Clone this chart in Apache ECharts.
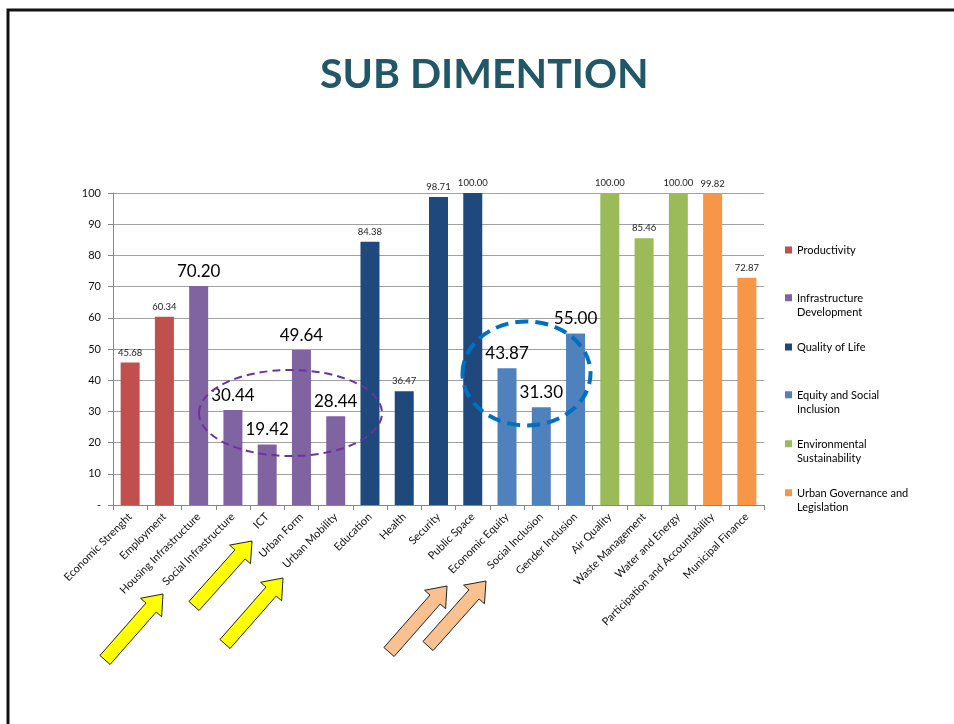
<!DOCTYPE html>
<html><head><meta charset="utf-8">
<script src="https://cdn.jsdelivr.net/npm/echarts@6/dist/echarts.min.js"></script>
<style>html,body{margin:0;padding:0;background:#fff}#c{width:954px;height:724px}</style>
</head><body><div id="c"></div>
<script>
const categories = ['Economic Strenght','Employment','Housing Infrastructure','Social Infrastructure','ICT','Urban Form','Urban Mobility','Education','Health','Security','Public Space','Economic Equity','Social Inclusion','Gender Inclusion','Air Quality','Waste Management','Water and Energy','Participation and Accountability','Municipal Finance'];
const values = [45.68,60.34,70.20,30.44,19.42,49.64,28.44,84.38,36.47,98.71,100.00,43.87,31.30,55.00,100.00,85.46,100.00,99.82,72.87];
const groupNames = ['Productivity','Infrastructure Development','Quality of Life','Equity and Social Inclusion','Environmental Sustainability','Urban Governance and Legislation'];
const groupOfCategory = [0,0,1,1,1,1,1,2,2,2,2,3,3,3,4,4,4,5,5];
const yTickValues = [0,10,20,30,40,50,60,70,80,90,100];
const yTickLabels = ['-','10','20','30','40','50','60','70','80','90','100'];

const colors = ['#C0504D','#8064A2','#1F497D','#4F81BD','#9BBB59','#F79646'];
const legendText = {
  'Productivity':'Productivity',
  'Infrastructure Development':'Infrastructure\nDevelopment',
  'Quality of Life':'Quality of Life',
  'Equity and Social Inclusion':'Equity and Social\nInclusion',
  'Environmental Sustainability':'Environmental\nSustainability',
  'Urban Governance and Legislation':'Urban Governance and\nLegislation'
};
const bigLabelIdx = [2,3,4,5,6,11,12,13];
const FONT = 'Lato';
const smallLabel = {fontSize:9.5, color:'#222', distance:5};
const bigLabel = {fontSize:17, color:'#000', distance:6};

const series = groupNames.map((name,g)=>({
  name, type:'bar', barWidth:19, barGap:'-100%',
  itemStyle:{color:colors[g]},
  label:{show:true, position:'top', fontFamily:FONT, formatter:p=>Number(p.value).toFixed(2)},
  data: values.map((v,i)=> groupOfCategory[i]===g ? {value:v, label: bigLabelIdx.includes(i)?bigLabel:smallLabel} : '-')
}));

const firstLineY = [250,298,347,395,444,493];
const legends = groupNames.map((name,g)=>{
  const two = legendText[name].includes('\n');
  return {
    data:[name], orient:'vertical', left:785, top:firstLineY[g]-7.25, padding:0,
    itemWidth:7, itemHeight: two?22:7, selectedMode:false,
    icon: two ? 'path://M0,0L7,0L7,7L0,7Z M0,22L0.01,22' : 'rect',
    itemStyle:{borderWidth:0},
    formatter: n=>legendText[n],
    textStyle:{fontFamily:FONT, fontSize:11, color:'#000', lineHeight:14.5}
  };
});

function arrow(tail, tip, fill){
  const dx=tip[0]-tail[0], dy=tip[1]-tail[1], L=Math.hypot(dx,dy);
  const ux=dx/L, uy=dy/L, px=-uy, py=ux;
  const sw=6.8, hw=14, hl=18;
  const pt=(a,b)=>[tail[0]+ux*a+px*b, tail[1]+uy*a+py*b];
  return {type:'polygon', z:100, shape:{points:[pt(0,-sw),pt(L-hl,-sw),pt(L-hl,-hw),pt(L,0),pt(L-hl,hw),pt(L-hl,sw),pt(0,sw)]},
    style:{fill, stroke:'#222', lineWidth:1}};
}

const option = {
  animation:false,
  backgroundColor:'#fff',
  title:{text:'SUB DIMENTION', left:320, top:49, padding:[5,0,5,0], textAlign:'left',
    textStyle:{fontFamily:FONT, fontSize:41, fontWeight:'bold', color:'#215868'}},
  legend: legends,
  grid:{left:113, right:190, top:193, bottom:219},
  xAxis:{type:'category', data:categories,
    axisLine:{lineStyle:{color:'#868686'}},
    axisTick:{show:true, length:5, lineStyle:{color:'#868686'}},
    axisLabel:{rotate:45, interval:0, fontFamily:FONT, fontSize:11, color:'#111', margin:10}},
  yAxis:{type:'value', min:0, max:100, interval:10,
    axisLine:{show:true, lineStyle:{color:'#868686'}},
    axisTick:{show:true, length:5, lineStyle:{color:'#868686'}},
    splitLine:{lineStyle:{color:'#a0a0a0'}},
    axisLabel:{fontFamily:FONT, fontSize:11, color:'#111', margin:12,
      formatter:v=>yTickLabels[yTickValues.indexOf(v)] ?? String(v)}},
  series,
  graphic:[
    {type:'rect', z:100, shape:{x:8, y:10, width:1000, height:800}, style:{fill:'none', stroke:'#111', lineWidth:3}},
    {type:'ellipse', z:100, shape:{cx:290.5, cy:413, rx:91.5, ry:43}, style:{fill:'none', stroke:'#7030A0', lineWidth:2, lineDash:[8,5]}},
    {type:'ellipse', z:100, shape:{cx:526.5, cy:373.5, rx:64, ry:52}, style:{fill:'none', stroke:'#0070C0', lineWidth:4, lineDash:[13,7]}},
    arrow([105,660],[163,594],'#FFFF00'),
    arrow([194,606],[252,541],'#FFFF00'),
    arrow([225,644],[283,578],'#FFFF00'),
    arrow([389,652],[447,586],'#FAC090'),
    arrow([428,646],[486,581],'#FAC090')
  ]
};
const chart = echarts.init(document.getElementById('c'));
chart.setOption(option);
</script></body></html>
